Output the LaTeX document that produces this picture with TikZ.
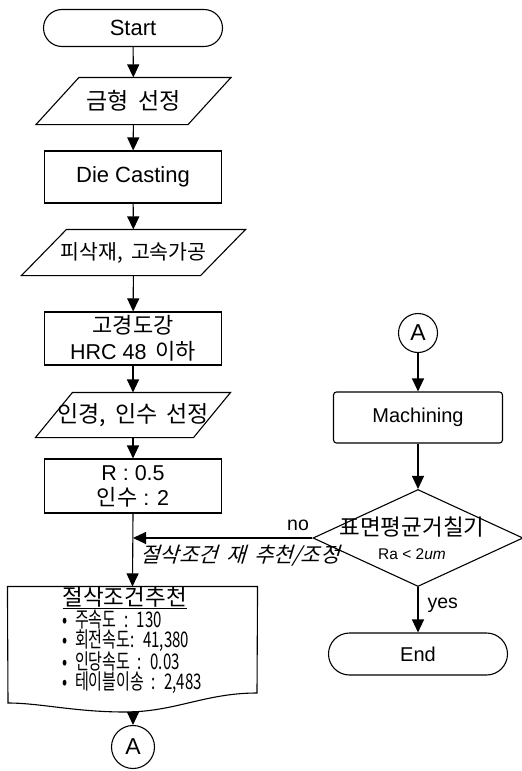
\documentclass[tikz,border=0pt]{standalone}
\usepackage{fontspec}
\setmainfont[WordSpace=1.8]{Noto Sans CJK KR}
\newfontfamily\lat{Liberation Sans}
\newfontfamily\krit[FakeSlant=0.3,WordSpace=1.8]{Noto Sans CJK KR}
\newfontfamily\krc[FakeStretch=0.7,WordSpace=2.2]{Noto Sans CJK KR}
\usetikzlibrary{arrows.meta,shapes.geometric,shapes.misc}

\newcommand{\fs}[2][1.2]{\fontsize{#2}{#1\dimexpr #2pt\relax}\selectfont}
% parallelogram outline round a text node: #1 node, #2 half of the slant
\newcommand{\ioshape}[2]{%
  \draw ([xshift=-#2]#1.south west) -- ([xshift=#2]#1.north west)
     -- ([xshift=#2]#1.north east) -- ([xshift=-#2]#1.south east) -- cycle;}

\begin{document}
\begin{tikzpicture}[x=1pt,y=-1pt,line width=1.1pt,
  every node/.style={font=\fs{23}},
  term/.style={rounded rectangle,draw,minimum width=179pt,inner sep=0pt},
  proc/.style={rectangle,draw,minimum width=177pt,inner sep=0pt,align=center},
  io/.style={rectangle,inner sep=0pt},
  conn/.style={circle,draw,inner sep=0pt,font=\lat\fs{23}},
  decision/.style={diamond,draw,inner sep=0pt,minimum width=210pt,minimum height=97pt},
  flow/.style={-{Triangle[length=13pt,width=12pt]}},
  lbl/.style={inner sep=0pt}]

\useasboundingbox (0,0) rectangle (522,771);

% left column
\node[term,minimum height=37pt,font=\lat\fs{22}] (start) at (133,28) {Start};
\node[io,minimum width=151pt,minimum height=46pt] (p1) at (133.5,101) {금형 선정};
\ioshape{p1}{21.5pt}
\node[proc,minimum height=52pt,font=\lat\fs{22}] (die) at (133,177) {Die Casting};
\node[io,minimum width=178pt,minimum height=45pt,font=\fs{20.5}] (p2) at (133.5,252.5) {피삭재, 고속가공};
\ioshape{p2}{22.5pt}
\node[proc,minimum height=53pt,font=\fontsize{22}{26}\selectfont] (hrc) at (133,338.5)
  {고경도강\\{\lat\fs{21.5}HRC 48} 이하};
\node[io,minimum width=157pt,minimum height=44pt] (p3) at (133,415) {인경, 인수 선정};
\ioshape{p3}{18.5pt}
\node[proc,minimum height=54pt,font=\fontsize{22}{25}\selectfont] (rbox) at (133,486)
  {{\lat\fs{21.5}R : 0.5}\\인수{\lat\fs{21.5}\ : 2}};

% document shape with the recommended cutting conditions
\node[minimum width=249pt,minimum height=118pt,inner sep=0pt] (doc) at (132.5,646) {};
\draw (doc.north west) -- (doc.north east) -- (257,693)
  .. controls (205,693) and (175,712) .. (125,712)
  .. controls (75,712) and (40,703) .. (8,703) -- cycle;
\node[anchor=north west,align=left,inner sep=0pt,font=\krc\fontsize{21.5}{19.7}\selectfont] (doctext) at (62,586)
  {{\normalfont\fs{22.5}\underline{절삭조건추천}}\\[0pt]
   • 주속도 : 130\\
   • 회전속도: 41,380\\
   • 인당속도 : 0.03\\
   • 테이블이송 : 2,483};
\coordinate (docb) at (133,711);
\node[conn,minimum size=43pt] (a1) at (133,747) {A};

% right column
\node[conn,minimum size=39pt] (a2) at (418,333) {A};
\node[proc,rounded corners=3pt,minimum width=169pt,minimum height=51pt,font=\lat\fs{20}] (mach) at (418,417.5) {Machining};
\node[decision] (dia) at (418,538) {};
\node[lbl,align=center,font=\fontsize{22.5}{24}\selectfont] (diatext) at (412,538)
  {표면평균거칠기\\{\lat\fs{15.5}Ra < 2\textit{um}}};
\node[term,minimum height=42pt,font=\lat\fs{20}] (end) at (418,654) {End};

\coordinate (join) at (dia.west -| rbox.south);

% connectors
\draw[flow] (start) -- (p1);
\draw[flow] (p1) -- (die);
\draw[flow] (die) -- (p2);
\draw[flow] (p2) -- (hrc);
\draw[flow] (hrc) -- (p3);
\draw[flow] (p3) -- (rbox);
\draw[flow] (rbox.south) -- (doc.north);
\draw[flow] (dia.west) -- (join);
\draw[flow] (docb) -- (a1);
\draw[flow] (a2) -- (mach);
\draw[flow] (mach) -- (dia);
\draw[flow] (dia) -- (end);

% branch labels
\node[lbl,font=\lat\fs{19.5}] (no) at (298,525) {no};
\node[lbl,font=\krit\fs{21}] (redo) at (240,556) {절삭조건 재 추천/조정};
\node[lbl,anchor=west,font=\lat\fs{19.5}] (yes) at (427,605) {yes};
\end{tikzpicture}
\end{document}
